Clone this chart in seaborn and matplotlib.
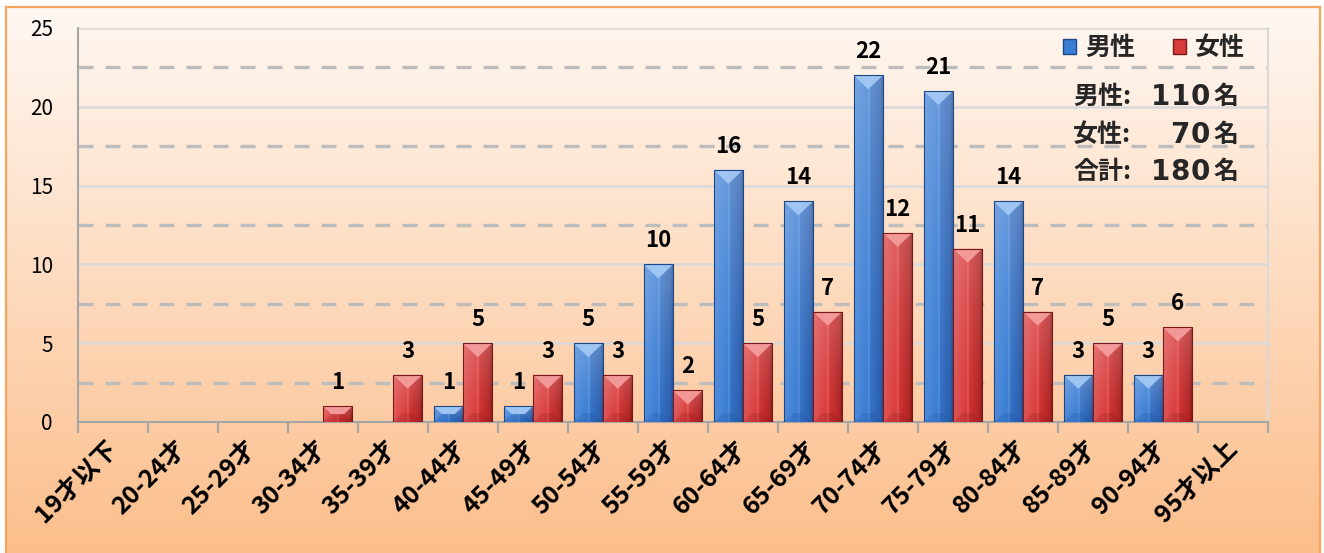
import numpy as np
import pandas as pd
import matplotlib
matplotlib.use('Agg')
import matplotlib.pyplot as plt
import seaborn as sns
from matplotlib.patches import Polygon, Patch
from matplotlib.ticker import MultipleLocator, FixedLocator
from matplotlib.colors import to_rgb

# ---------------- data ----------------
categories = ['19才以下', '20-24才', '25-29才', '30-34才', '35-39才', '40-44才',
              '45-49才', '50-54才', '55-59才', '60-64才', '65-69才', '70-74才',
              '75-79才', '80-84才', '85-89才', '90-94才', '95才以上']
male = [0, 0, 0, 0, 0, 1, 1, 5, 10, 16, 14, 22, 21, 14, 3, 3, 0]
female = [0, 0, 0, 1, 3, 5, 3, 3, 2, 5, 7, 12, 11, 7, 5, 6, 0]
series_names = ['男性', '女性']
summary_labels = ['男性:', '女性:', '合計:']
summary_numbers = [sum(male), sum(female), sum(male) + sum(female)]
unit = '名'

# ---------------- style ----------------
sns.set_theme(style='white')
plt.rcParams['font.family'] = ['Noto Sans CJK JP', 'DejaVu Sans']

BLUE = '#3a7dd4'
RED = '#d93a3a'
blue_prof = [(0, '#5b93dc'), (0.06, '#4d8ad9'), (0.46, '#3a7dd4'), (0.5, '#5e98e0'),
             (0.54, '#3472c6'), (0.88, '#2b5fae'), (1.0, '#1d4684')]
red_prof = [(0, '#e36a6a'), (0.06, '#df5252'), (0.46, '#d93a3a'), (0.5, '#e66363'),
            (0.54, '#cf3131'), (0.88, '#b22525'), (1.0, '#7e1717')]
styles = {
    0: dict(prof=blue_prof, top='#a3c8f5', bot='#1d4f9a', edge='#1d4684',
            tint=np.array([0.86, 0.9, 0.96]), tamt=0.28),
    1: dict(prof=red_prof, top='#f59c9c', bot='#8f1a1a', edge='#7e1717',
            tint=np.array([0.95, 0.82, 0.82]), tamt=0.25),
}

W, H = 1324, 553
fig = plt.figure(figsize=(W / 100, H / 100), dpi=100)
fig.patch.set_facecolor('white')

# background panel with vertical gradient
bg = fig.add_axes([6 / W, 0, 1314 / W, 546 / H], zorder=0)
g = np.linspace(0, 1, 256)[:, None, None]
ctop = np.array(to_rgb('#fff8f3'))
cbot = np.array(to_rgb('#fcbe8b'))
bg.imshow(ctop * (1 - g) + cbot * g, aspect='auto', extent=[0, 1, 0, 1])
bg.set_xticks([])
bg.set_yticks([])
for s in ['top', 'left', 'right']:
    bg.spines[s].set_color('#f6a45e')
    bg.spines[s].set_linewidth(1.6)
bg.spines['bottom'].set_visible(False)

# main axes
ax = fig.add_axes([78 / W, 1 - 422 / H, 1190 / W, 394 / H], zorder=1)
ax.set_facecolor('none')

df = pd.DataFrame({
    'age': categories * 2,
    'count': male + female,
    'sex': [series_names[0]] * len(categories) + [series_names[1]] * len(categories),
})
sns.barplot(data=df, x='age', y='count', hue='sex', order=categories,
            hue_order=series_names, palette=[BLUE, RED], width=0.84,
            saturation=1, legend=False, ax=ax, zorder=3)

ax.set_xlim(-0.5, len(categories) - 0.5)
ax.set_ylim(0, 25)

ppx_y = 25 / 394           # data units per pixel (y)
BEV = 14                   # bevel depth px
BOT = 9

for ci, cont in enumerate(ax.containers):
    st = styles[ci]
    pos = np.array([p for p, _ in st['prof']])
    cols = np.array([to_rgb(c) for _, c in st['prof']])
    xs = np.linspace(0, 1, 80)
    row = np.stack([np.interp(xs, pos, cols[:, k]) for k in range(3)], axis=-1)
    ts = np.linspace(0, 1, 60)[:, None, None]
    amt = st['tamt'] * ts ** 1.4
    img = row[None, :, :] * (1 - amt) + amt * st['tint']
    for bar in cont:
        h = bar.get_height()
        if h <= 0:
            bar.set_visible(False)
            continue
        x0 = bar.get_x()
        w = bar.get_width()
        x1 = x0 + w
        xc = x0 + w / 2
        y0 = bar.get_y()
        y1 = y0 + h
        im = ax.imshow(img, extent=[x0, x1, y0, y1], origin='lower', aspect='auto',
                       zorder=3, interpolation='bilinear')
        im.set_clip_path(bar)
        hpx = h / ppx_y
        d = min(BEV, hpx / 2)
        frac = 1 - d / BEV
        ax.add_patch(Polygon([(x0, y1), (x1, y1), (xc + w / 2 * frac, y1 - d * ppx_y),
                              (xc - w / 2 * frac, y1 - d * ppx_y)],
                             closed=True, facecolor=st['top'], edgecolor='none',
                             alpha=0.95, zorder=4))
        db = min(BOT, hpx / 2)
        fb = 1 - db / BEV
        ax.add_patch(Polygon([(x0, y0), (x1, y0), (xc + w / 2 * fb, y0 + db * ppx_y),
                              (xc - w / 2 * fb, y0 + db * ppx_y)],
                             closed=True, facecolor=st['bot'], edgecolor='none',
                             alpha=0.22, zorder=4))
        bar.set_facecolor('none')
        bar.set_edgecolor(st['edge'])
        bar.set_linewidth(0.8)
        bar.set_zorder(5)
        ax.annotate(str(int(h)), (xc, y1), xytext=(0, 17), textcoords='offset pixels',
                    ha='center', va='baseline', fontsize=16, fontweight='bold',
                    color='black', zorder=6)

ax.set_xlim(-0.5, len(categories) - 0.5)
ax.set_ylim(0, 25)
ax.set_xlabel('')
ax.set_ylabel('')

# grid
ax.yaxis.set_major_locator(MultipleLocator(5))
ax.yaxis.set_minor_locator(MultipleLocator(2.5))
ax.set_axisbelow(True)
ax.grid(axis='y', which='major', color='#d9d9d9', lw=1.8)
ax.grid(axis='y', which='minor', color='#bdbdbd', lw=2.4, linestyle=(0, (4.5, 3.6)))
ax.grid(axis='x', visible=False)

ax.tick_params(axis='y', which='both', length=0, pad=18, labelsize=15, labelcolor='black')
ax.xaxis.set_minor_locator(FixedLocator(np.arange(-0.5, len(categories), 1)))
ax.tick_params(axis='x', which='minor', bottom=True, length=8, width=1.5, color='#a6a6a6', direction='out')
ax.tick_params(axis='x', which='major', length=0, pad=16)
for lbl in ax.get_xticklabels():
    lbl.set_rotation(45)
    lbl.set_ha('right')
    lbl.set_va('center')
    lbl.set_rotation_mode('anchor')
    lbl.set_fontsize(18)
    lbl.set_fontweight('bold')
    lbl.set_color('black')

ax.spines['top'].set_visible(False)
ax.spines['left'].set_color('#a6a6a6')
ax.spines['left'].set_linewidth(1.5)
ax.spines['bottom'].set_color('#a6a6a6')
ax.spines['bottom'].set_linewidth(1.5)
ax.spines['right'].set_color('#d9d9d9')
ax.spines['right'].set_linewidth(1.5)

# legend
handles = [Patch(facecolor=BLUE, edgecolor=styles[0]['edge']),
           Patch(facecolor=RED, edgecolor=styles[1]['edge'])]
ax.legend(handles, series_names, loc='center right', bbox_to_anchor=(1245 / W, 1 - 48 / H),
          bbox_transform=fig.transFigure, ncol=2, frameon=False,
          prop={'weight': 'bold', 'size': 18}, handlelength=0.55, handleheight=0.55,
          handletextpad=0.35, columnspacing=1.5, borderaxespad=0, borderpad=0)

# summary text (digits set in fixed-width cells, like the original)
CELL = 20
for lab, num, ypx in zip(summary_labels, summary_numbers, [97, 135, 172]):
    yy = 1 - ypx / H
    fig.text(1073 / W, yy, lab, ha='left', va='center', fontsize=18, fontweight='bold')
    digits = str(num)
    for k, ch in enumerate(reversed(digits)):
        cx = 1200 - k * CELL
        fig.text(cx / W, yy, ch, ha='center', va='center', fontsize=20,
                 fontweight='bold', family='DejaVu Sans')
    fig.text(1239 / W, yy, unit, ha='right', va='center', fontsize=18, fontweight='bold')

fig.savefig('out.png', dpi=100, facecolor='white')
